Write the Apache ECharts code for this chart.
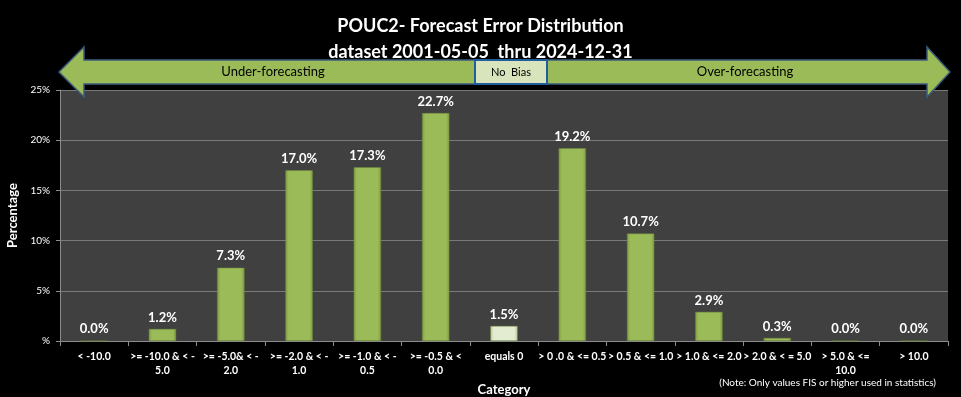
<!DOCTYPE html>
<html>
<head>
<meta charset="utf-8">
<script src="https://cdn.jsdelivr.net/npm/echarts@6/dist/echarts.min.js"></script>
<style>
  html, body { margin: 0; padding: 0; background: #000; }
  #chart { width: 961px; height: 397px; }
</style>
</head>
<body>
<div id="chart"></div>
<script>
// categories (tick labels, wrapped like the original)
var categories = [
  '< -10.0', '>= -10.0 & < -\n5.0', '>= -5.0& < -\n2.0', '>= -2.0 & < -\n1.0',
  '>= -1.0 & < -\n0.5', '>= -0.5 & <\n0.0', 'equals 0', '> 0 .0 & <= 0.5',
  '> 0.5 & <= 1.0', '> 1.0 & <= 2.0', '> 2.0 & < = 5.0', '> 5.0 & <=\n10.0', '> 10.0'
];
// percentage per category
var percents = [0.0, 1.2, 7.3, 17.0, 17.3, 22.7, 1.5, 19.2, 10.7, 2.9, 0.3, 0.0, 0.0];

var chart = echarts.init(document.getElementById('chart'));
var font = 'Lato, "Liberation Sans", sans-serif';

var greenBar = new echarts.graphic.LinearGradient(0, 0, 1, 0, [
  { offset: 0, color: '#7f9d45' },
  { offset: 0.12, color: '#9bbb59' },
  { offset: 0.88, color: '#9bbb59' },
  { offset: 1, color: '#7f9d45' }
]);
var paleBar = new echarts.graphic.LinearGradient(0, 0, 1, 0, [
  { offset: 0, color: '#b9c99a' },
  { offset: 0.12, color: '#e3ecd0' },
  { offset: 0.88, color: '#e3ecd0' },
  { offset: 1, color: '#b9c99a' }
]);

var option = {
  backgroundColor: '#000',
  textStyle: { fontFamily: font },
  title: {
    text: 'POUC2- Forecast Error Distribution\ndataset 2001-05-05  thru 2024-12-31',
    left: 'center',
    top: 8,
    textStyle: { color: '#fff', fontSize: 18, fontWeight: 'bold', lineHeight: 26, fontFamily: font }
  },
  grid: {
    left: 60, right: 13, top: 90, bottom: 56,
    outerBoundsMode: 'none',
    containLabel: false,
    show: true, backgroundColor: '#404040', borderWidth: 0
  },
  xAxis: {
    type: 'category',
    data: categories,
    name: 'Category',
    nameLocation: 'middle',
    nameGap: 35,
    nameTextStyle: { color: '#fff', fontSize: 13, fontWeight: 'bold', padding: [0, 0, 0, 0] },
    axisLine: { lineStyle: { color: '#8c8c8c' } },
    axisTick: { show: true, alignWithLabel: false, length: 5, lineStyle: { color: '#8c8c8c' } },
    axisLabel: { color: '#fff', fontSize: 10.5, fontWeight: 'bold', interval: 0, lineHeight: 14, margin: 9 }
  },
  yAxis: {
    type: 'value',
    min: 0, max: 25, interval: 5,
    name: 'Percentage',
    nameLocation: 'middle',
    nameGap: 36,
    nameTextStyle: { color: '#fff', fontSize: 13, fontWeight: 'bold' },
    axisLine: { show: true, lineStyle: { color: '#8c8c8c' } },
    axisTick: { show: true, length: 4, lineStyle: { color: '#8c8c8c' } },
    splitLine: { lineStyle: { color: '#7a7a7a', width: 1 } },
    axisLabel: {
      color: '#fff', fontSize: 10, margin: 10,
      formatter: function (v) { return v === 0 ? '%' : v + '%'; }
    }
  },
  series: [{
    type: 'bar',
    data: percents.map(function (v, i) {
      return { value: v, itemStyle: { color: categories[i] === 'equals 0' ? paleBar : greenBar } };
    }),
    barWidth: '40%',
    itemStyle: { borderColor: '#6e8a3a', borderWidth: 0.5 },
    label: {
      show: true, position: 'top', distance: 5,
      color: '#fff', fontSize: 13, fontWeight: 'bold', fontFamily: font,
      formatter: function (p) { return p.value.toFixed(1) + '%'; }
    }
  }],
  graphic: [
    {
      type: 'polygon',
      shape: {
        points: [[59, 72], [84, 47], [84, 60], [927, 60], [927, 47], [950, 72],
                 [927, 97], [927, 84], [84, 84], [84, 97]]
      },
      style: { fill: '#9bbb59', stroke: '#3b5b7d', lineWidth: 1.5 },
      z: 100
    },
    {
      type: 'rect',
      shape: { x: 475, y: 60, width: 72, height: 24 },
      style: { fill: '#d7e4bc', stroke: '#1f5fa0', lineWidth: 2 },
      z: 101
    },
    {
      type: 'text', z: 102,
      style: { text: 'No  Bias', x: 511, y: 72, fill: '#000', font: '11px ' + font, align: 'center', verticalAlign: 'middle' }
    },
    {
      type: 'text', z: 102,
      style: { text: 'Under-forecasting', x: 273, y: 72, fill: '#000', font: '13px ' + font, align: 'center', verticalAlign: 'middle' }
    },
    {
      type: 'text', z: 102,
      style: { text: 'Over-forecasting', x: 745, y: 72, fill: '#000', font: '13px ' + font, align: 'center', verticalAlign: 'middle' }
    },
    {
      type: 'text', z: 102,
      style: { text: '(Note: Only values FIS or higher used in statistics)', x: 936, y: 383, fill: '#fff', font: '10px ' + font, align: 'right', verticalAlign: 'middle' }
    }
  ]
};

chart.setOption(option);
</script>
</body>
</html>
